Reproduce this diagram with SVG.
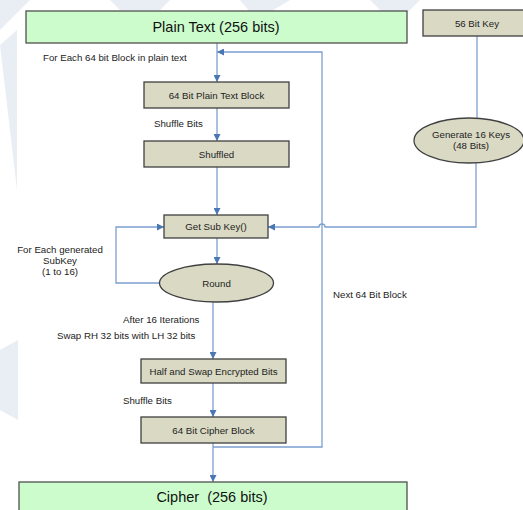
<svg xmlns="http://www.w3.org/2000/svg" width="523" height="510" viewBox="0 0 523 510">
<defs>
<style>
.t{font-family:"Liberation Sans",Arial,sans-serif;font-size:9.7px;fill:#222}
.big{font-family:"Liberation Sans",Arial,sans-serif;font-size:14.5px;fill:#111}
.m{text-anchor:middle}
.box{fill:#dadac4;stroke:#404040;stroke-width:1.3}
.grn{fill:#ccfccc;stroke:#505050;stroke-width:1.3}
.ln{fill:none;stroke:#7c9fcf;stroke-width:1.3}
.wm{fill:#e9eef4}
</style>
<marker id="ah" viewBox="0 0 10 10" refX="10" refY="5" markerWidth="7" markerHeight="7" markerUnits="userSpaceOnUse" orient="auto">
<path d="M0,0 L10,5 L0,10 Z" fill="#4a76b4"/>
</marker>
</defs>
<rect width="523" height="510" fill="#ffffff"/>
<g id="watermark">
<polygon class="wm" points="0,0 30,0 0,30"/>
<polygon class="wm" points="0,45 17,30 17,190"/>
<polygon class="wm" points="110,0 170,0 160,10 120,10"/>
<polygon class="wm" points="240,0 290,0 270,12 250,12"/>
<polygon class="wm" points="370,0 420,0 405,15 385,15"/>
<polygon class="wm" points="0,350 18,340 18,420 0,410"/>
</g>
<g id="connectors">
<path class="ln" d="M217,43 V82" marker-end="url(#ah)"/>
<path class="ln" d="M217,108 V141" marker-end="url(#ah)"/>
<path class="ln" d="M217,167 V215" marker-end="url(#ah)"/>
<path class="ln" d="M217,238 V264" marker-end="url(#ah)"/>
<path class="ln" d="M160,283 H116 V227 H164" marker-end="url(#ah)"/>
<path class="ln" d="M477,36 V118"/>
<path class="ln" d="M476,163 V227 H325 A3,3 0 0 0 319,227 H268" marker-end="url(#ah)"/>
<path class="ln" d="M213,302 V359" marker-end="url(#ah)"/>
<path class="ln" d="M213,383 V417" marker-end="url(#ah)"/>
<path class="ln" d="M213,443 V482" marker-end="url(#ah)"/>
<path class="ln" d="M213,447 H322 V52 H217" marker-end="url(#ah)"/>
</g>
<g id="plain">
<rect class="grn" x="26" y="11" width="381" height="32"/>
<text class="big m" x="216" y="32">Plain Text (256 bits)</text>
</g>
<g id="key56">
<rect class="box" x="423" y="10" width="105" height="26"/>
<text class="t m" x="477" y="27">56 Bit Key</text>
</g>
<g id="label-foreach">
<text class="t" x="43" y="61">For Each 64 bit Block in plain text</text>
</g>
<g id="block64">
<rect class="box" x="144" y="82" width="145" height="26"/>
<text class="t m" x="216.5" y="98.5">64 Bit Plain Text Block</text>
</g>
<g id="label-shuffle1">
<text class="t" x="154" y="126.5">Shuffle Bits</text>
</g>
<g id="shuffled">
<rect class="box" x="144" y="141" width="145" height="26"/>
<text class="t m" x="216.5" y="157.5">Shuffled</text>
</g>
<g id="genkeys">
<ellipse class="box" cx="469" cy="140.5" rx="55" ry="22.5"/>
<text class="t m" x="471" y="138">Generate 16 Keys</text>
<text class="t m" x="471" y="149">(48 Bits)</text>
</g>
<g id="subkey">
<rect class="box" x="164" y="215" width="104" height="23"/>
<text class="t m" x="216" y="230">Get Sub Key()</text>
</g>
<g id="label-foreachsub">
<text class="t m" x="60" y="253">For Each generated</text>
<text class="t m" x="60" y="264">SubKey</text>
<text class="t m" x="60" y="275">(1 to 16)</text>
</g>
<g id="round">
<ellipse class="box" cx="216.5" cy="283" rx="57" ry="19"/>
<text class="t m" x="216.5" y="286.5">Round</text>
</g>
<g id="label-next">
<text class="t" x="333" y="297.5">Next 64 Bit Block</text>
</g>
<g id="label-after">
<text class="t" x="123" y="322.5">After 16 Iterations</text>
<text class="t" x="57" y="338.5">Swap RH 32 bits with LH 32 bits</text>
</g>
<g id="halfswap">
<rect class="box" x="141" y="359" width="145" height="24"/>
<text class="t m" x="213.5" y="374.5">Half and Swap Encrypted Bits</text>
</g>
<g id="label-shuffle2">
<text class="t" x="123" y="403.5">Shuffle Bits</text>
</g>
<g id="cipherblock">
<rect class="box" x="141" y="417" width="145" height="26"/>
<text class="t m" x="213.5" y="433.5">64 Bit Cipher Block</text>
</g>
<g id="cipher">
<rect class="grn" x="19" y="482" width="388" height="35"/>
<text class="big m" x="212" y="502" xml:space="preserve">Cipher  (256 bits)</text>
</g>
</svg>
